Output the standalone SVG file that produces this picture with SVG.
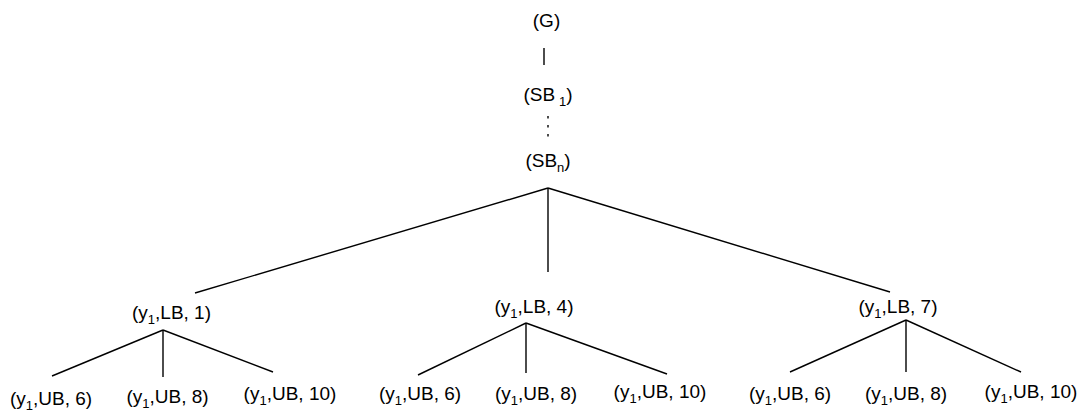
<svg xmlns="http://www.w3.org/2000/svg" width="1082" height="411" viewBox="0 0 1082 411">
<style>
text{font-family:"Liberation Sans",Arial,sans-serif;font-size:19px;fill:#000;text-anchor:middle}
.s{font-size:13px}
line{stroke:#000;stroke-width:1.4}
</style>
<rect width="1082" height="411" fill="#fff"/>
<g id="connectors">
<line x1="544" y1="48" x2="544" y2="65"/>
<line x1="548" y1="116" x2="548" y2="138" stroke-dasharray="2.5,6.5"/>
<line x1="548" y1="188" x2="195" y2="293"/>
<line x1="548" y1="188" x2="548" y2="272"/>
<line x1="548" y1="188" x2="890" y2="292"/>
<line x1="163" y1="330" x2="52" y2="376"/>
<line x1="163" y1="330" x2="163" y2="377"/>
<line x1="163" y1="330" x2="273" y2="372"/>
<line x1="526" y1="323" x2="418" y2="375"/>
<line x1="526" y1="323" x2="526" y2="373"/>
<line x1="526" y1="323" x2="667" y2="374"/>
<line x1="906" y1="320" x2="790" y2="372"/>
<line x1="906" y1="320" x2="906" y2="372"/>
<line x1="906" y1="320" x2="1021" y2="372"/>
</g>
<g id="n-G"><text x="546.5" y="26.5">(G)</text></g>
<g id="n-SB1"><text x="548" y="101">(SB<tspan class="s" dx="4" dy="5">1</tspan><tspan dy="-5">)</tspan></text></g>
<g id="n-SBn"><text x="548" y="167">(SB<tspan class="s" dy="5">n</tspan><tspan dy="-5">)</tspan></text></g>
<g id="n-LB1"><text x="171.5" y="319">(y<tspan class="s" dy="5">1</tspan><tspan dy="-5">,LB, 1)</tspan></text></g>
<g id="n-LB4"><text x="534" y="313">(y<tspan class="s" dy="5">1</tspan><tspan dy="-5">,LB, 4)</tspan></text></g>
<g id="n-LB7"><text x="898" y="313">(y<tspan class="s" dy="5">1</tspan><tspan dy="-5">,LB, 7)</tspan></text></g>
<g id="n-1-UB6"><text x="51" y="405">(y<tspan class="s" dy="5">1</tspan><tspan dy="-5">,UB, 6)</tspan></text></g>
<g id="n-1-UB8"><text x="167.5" y="403">(y<tspan class="s" dy="5">1</tspan><tspan dy="-5">,UB, 8)</tspan></text></g>
<g id="n-1-UB10"><text x="290" y="400">(y<tspan class="s" dy="5">1</tspan><tspan dy="-5">,UB, 10)</tspan></text></g>
<g id="n-2-UB6"><text x="420" y="400">(y<tspan class="s" dy="5">1</tspan><tspan dy="-5">,UB, 6)</tspan></text></g>
<g id="n-2-UB8"><text x="536" y="400">(y<tspan class="s" dy="5">1</tspan><tspan dy="-5">,UB, 8)</tspan></text></g>
<g id="n-2-UB10"><text x="660" y="398">(y<tspan class="s" dy="5">1</tspan><tspan dy="-5">,UB, 10)</tspan></text></g>
<g id="n-3-UB6"><text x="790" y="400">(y<tspan class="s" dy="5">1</tspan><tspan dy="-5">,UB, 6)</tspan></text></g>
<g id="n-3-UB8"><text x="906" y="400">(y<tspan class="s" dy="5">1</tspan><tspan dy="-5">,UB, 8)</tspan></text></g>
<g id="n-3-UB10"><text x="1031" y="398">(y<tspan class="s" dy="5">1</tspan><tspan dy="-5">,UB, 10)</tspan></text></g>
</svg>
